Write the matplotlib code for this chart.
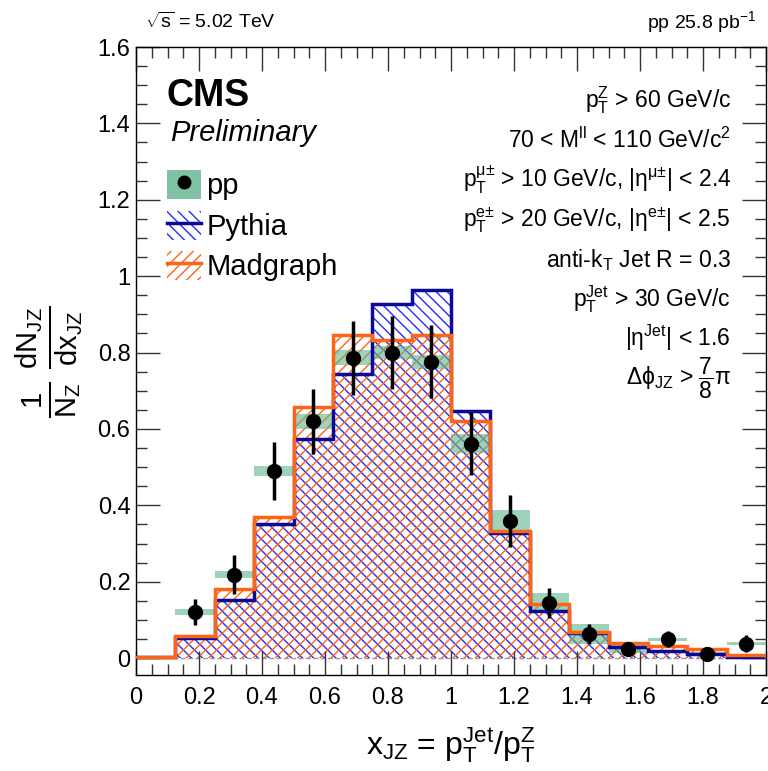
import numpy as np
import matplotlib
matplotlib.use('Agg')
import matplotlib.pyplot as plt
from matplotlib.patches import Patch
from matplotlib.lines import Line2D
from matplotlib.ticker import MultipleLocator, FuncFormatter

plt.rcParams['font.family'] = ['Liberation Sans', 'DejaVu Sans']
plt.rcParams['mathtext.fontset'] = 'custom'
plt.rcParams['mathtext.rm'] = 'Liberation Sans'
plt.rcParams['mathtext.it'] = 'Liberation Sans:italic'
plt.rcParams['mathtext.bf'] = 'Liberation Sans:bold'
plt.rcParams['mathtext.default'] = 'regular'
plt.rcParams['hatch.linewidth'] = 1.0

# binning of x_JZ
bin_edges = np.linspace(0, 2, 17)

# simulation (normalised)
pythia = [0.003, 0.052, 0.152, 0.352, 0.575, 0.745, 0.926, 0.965,
          0.647, 0.327, 0.124, 0.065, 0.030, 0.019, 0.012, 0.004]
madgraph = [0.003, 0.058, 0.180, 0.370, 0.658, 0.845, 0.832, 0.845,
            0.621, 0.333, 0.141, 0.069, 0.041, 0.032, 0.025, 0.008]

# pp data (bins 1..15)
data_x = [0.1875, 0.3125, 0.4375, 0.5625, 0.6875, 0.8125, 0.9375, 1.0625,
          1.1875, 1.3125, 1.4375, 1.5625, 1.6875, 1.8125, 1.9375]
data_y = [0.121, 0.219, 0.490, 0.620, 0.787, 0.800, 0.776, 0.562,
          0.359, 0.145, 0.063, 0.024, 0.050, 0.012, 0.038]
stat_err = [0.035, 0.050, 0.076, 0.086, 0.097, 0.096, 0.096, 0.082,
            0.068, 0.040, 0.026, 0.012, 0.022, 0.008, 0.022]
sys_err = [0.007, 0.009, 0.014, 0.020, 0.020, 0.017, 0.019, 0.026,
           0.028, 0.025, 0.027, 0.010, 0.004, 0.004, 0.004]

W, H = 768, 771
fig = plt.figure(figsize=(W / 100, H / 100), dpi=100)
ax = fig.add_axes([136 / W, 1 - 675 / H, 630 / W, 628 / H])

blue_line = '#0a0a9a'
blue_hatch = '#2a2aff'
orange = '#ff6414'
green = '#5fb48e'

# hatched fills
ax.stairs(pythia, bin_edges, fill=True, facecolor='none', edgecolor=blue_hatch,
          hatch='\\\\\\', linewidth=0, zorder=1)
ax.stairs(madgraph, bin_edges, fill=True, facecolor='none', edgecolor=orange,
          hatch='///', linewidth=0, zorder=1)

# systematic boxes
dy = np.array(data_y)
ds = np.array(sys_err)
ax.bar(data_x, 2 * ds, bottom=dy - ds, width=0.125, color=green, alpha=0.6,
       linewidth=0, zorder=2)

# outlines
ax.stairs(pythia, bin_edges, color=blue_line, linewidth=2.5, zorder=3)
ax.stairs(madgraph, bin_edges, color=orange, linewidth=2.5, zorder=4)

ax.axhline(0, color='#999999', ls='--', lw=1, zorder=0.5)

ax.errorbar(data_x, data_y, yerr=stat_err, fmt='o', color='black', ms=10,
            elinewidth=2.5, capsize=0, zorder=5)

ax.set_xlim(0, 2)
ax.set_ylim(-0.044, 1.6)
ax.xaxis.set_major_locator(MultipleLocator(0.2))
ax.xaxis.set_minor_locator(MultipleLocator(0.05))
ax.yaxis.set_major_locator(MultipleLocator(0.2))
ax.yaxis.set_minor_locator(MultipleLocator(0.05))
fmt = FuncFormatter(lambda v, p: '%g' % round(v, 2))
ax.xaxis.set_major_formatter(fmt)
ax.yaxis.set_major_formatter(fmt)
ax.tick_params(which='both', direction='in', top=True, right=True,
               labelsize=17, width=1, color='#333333')
ax.tick_params(which='major', length=17)
ax.tick_params(which='minor', length=8)
ax.tick_params(axis='x', which='major', pad=9)
ax.tick_params(axis='y', which='major', pad=4)
for s in ax.spines.values():
    s.set_linewidth(1)

fig.text(451 / W, 1 - 745 / H, r'$x_{JZ}$ = $p_{T}^{Jet}/p_{T}^{Z}$',
         ha='center', va='center', fontsize=23)
fig.text(50 / W, 1 - 362 / H, r'$\frac{1}{N_{Z}}\;\frac{dN_{JZ}}{dx_{JZ}}$',
         ha='center', va='center', rotation=90, fontsize=30)

fig.text(145 / W, 1 - 22 / H, r'$\sqrt{s}$ = 5.02 TeV', ha='left', va='center',
         fontsize=14)
fig.text(756 / W, 1 - 22 / H, r'pp 25.8 pb$^{-1}$', ha='right', va='center',
         fontsize=14)

fig.text(167 / W, 1 - 96 / H, 'CMS', ha='left', va='center', fontsize=27,
         fontweight='bold')
fig.text(170 / W, 1 - 133 / H, 'Preliminary', ha='left', va='center',
         fontsize=21, style='italic')

cuts = [r'$p_{T}^{Z}$ > 60 GeV/c',
        r'70 < $M^{ll}$ < 110 GeV/$c^{2}$',
        r'$p_{T}^{\mu{\pm}}$ > 10 GeV/c, $|\eta^{\mu{\pm}}|$ < 2.4',
        r'$p_{T}^{e{\pm}}$ > 20 GeV/c, $|\eta^{e{\pm}}|$ < 2.5',
        r'anti-$k_{T}$ Jet R = 0.3',
        r'$p_{T}^{Jet}$ > 30 GeV/c',
        r'$|\eta^{Jet}|$ < 1.6',
        r'$\Delta\phi_{JZ}$ > $\dfrac{7}{8}\pi$']
cut_y = [100, 140, 180, 220, 260, 299, 338, 378]
for t, yy in zip(cuts, cut_y):
    fig.text(731 / W, 1 - yy / H, t, ha='right', va='center', fontsize=16.5)

handles = [
    (Patch(facecolor=green, alpha=0.8, edgecolor='none'),
     Line2D([], [], marker='o', color='black', ls='none', ms=9)),
    (Patch(facecolor='none', edgecolor=blue_hatch, hatch='\\\\\\', linewidth=0),
     Line2D([], [], color=blue_line, lw=2.5)),
    (Patch(facecolor='none', edgecolor=orange, hatch='///', linewidth=0),
     Line2D([], [], color=orange, lw=2.5)),
]
leg = ax.legend(handles, ['pp', 'Pythia', 'Madgraph'], loc='upper left',
                bbox_to_anchor=((167 - 136) / 630, (675 - 170) / 628),
                frameon=False, fontsize=21, handlelength=1.15,
                handleheight=1.15, handletextpad=0.2, labelspacing=0.35,
                borderaxespad=0, borderpad=0)

fig.savefig('out.png', dpi=100)
